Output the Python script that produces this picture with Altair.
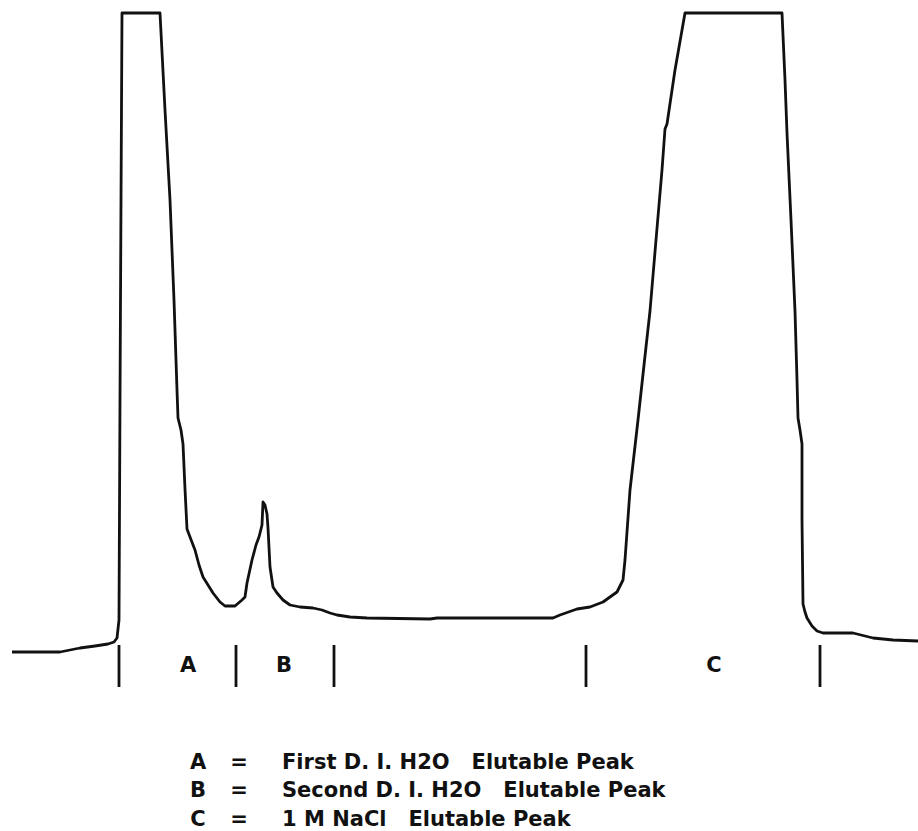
import altair as alt
import pandas as pd

# Chromatogram trace (x = elution position, y = recorder position, 0 at top)
trace_x = [12, 40, 60, 70, 80, 95, 108, 114, 117, 119, 120, 121, 122,
           160, 165, 170, 174, 177, 178, 181, 183, 185, 187, 190, 195, 199, 203, 208, 213, 220, 225,
           235, 242, 245, 247, 252, 256, 259, 262, 263, 265, 267, 268, 270, 273, 277, 283, 290, 300,
           313, 322, 330, 337, 350, 367, 430, 437, 500, 553, 560, 577, 590, 603, 610, 617, 623, 625,
           630, 638, 645, 647, 650, 656, 662, 665, 667, 675, 685, 782, 785, 787, 791, 795, 797, 798,
           800, 802, 802, 803, 805, 807, 812, 817, 823, 840, 853, 873, 893, 918]
trace_y = [652, 652, 652, 650, 648, 646, 644, 642, 638, 620, 400, 200, 13,
           13, 110, 200, 300, 390, 418, 430, 444, 489, 529, 537, 550, 565, 577, 585, 593, 602, 606,
           606, 600, 597, 583, 560, 545, 537, 525, 502, 505, 514, 528, 567, 587, 593, 600, 605, 607,
           608, 610, 613, 615, 617, 618, 619, 618, 618, 618, 615, 609, 607, 602, 597, 592, 580, 560,
           490, 420, 356, 338, 311, 240, 170, 129, 124, 70, 13, 13, 80, 133, 220, 311, 380, 418,
           430, 444, 520, 604, 612, 618, 626, 631, 633, 633, 633, 638, 640, 641]

# Fraction boundary markers
marker_x = [119, 236, 334, 586, 820]
marker_top = [645, 645, 645, 645, 645]
marker_bottom = [687, 687, 687, 687, 687]

# Fraction labels
peak_labels = ["A", "B", "C"]
peak_label_x = [188, 284, 714]
peak_label_y = [672, 672, 672]

# Key
NB = "\u00a0"
legend_letters = ["A", "B", "C"]
legend_eq = ["=", "=", "="]
legend_text = ["First D. I. H2O" + NB * 3 + "Elutable Peak",
               "Second D. I. H2O" + NB * 3 + "Elutable Peak",
               "1 M NaCl" + NB * 3 + "Elutable Peak"]
legend_y = [769, 797, 826]
legend_letter_x = [198, 198, 198]
legend_eq_x = [239, 239, 239]
legend_text_x = [282, 282, 282]

W, H = 918, 831
xs = alt.Scale(domain=[0, W], nice=False, zero=False)
ys = alt.Scale(domain=[H, 0], nice=False, zero=False)

trace = pd.DataFrame({"x": trace_x, "y": trace_y, "i": range(len(trace_x))})
markers = pd.DataFrame({"x": marker_x, "y": marker_top, "y2": marker_bottom})
plabels = pd.DataFrame({"x": peak_label_x, "y": peak_label_y, "t": peak_labels})
leg = pd.DataFrame({"lx": legend_letter_x, "ex": legend_eq_x, "tx": legend_text_x,
                    "y": legend_y, "l": legend_letters, "e": legend_eq, "t": legend_text})

FONT = "DejaVu Sans"
FS = 21
INK = "#111111"

line = alt.Chart(trace).mark_line(color=INK, strokeWidth=2.8, strokeJoin="round").encode(
    x=alt.X("x:Q", scale=xs, axis=None),
    y=alt.Y("y:Q", scale=ys, axis=None),
    order="i:Q",
)

rules = alt.Chart(markers).mark_rule(color=INK, strokeWidth=2.8).encode(
    x=alt.X("x:Q", scale=xs, axis=None),
    y=alt.Y("y:Q", scale=ys, axis=None),
    y2="y2:Q",
)

lbl = alt.Chart(plabels).mark_text(font=FONT, fontSize=FS, fontWeight="bold", color=INK,
                                   align="center", baseline="alphabetic").encode(
    x=alt.X("x:Q", scale=xs, axis=None),
    y=alt.Y("y:Q", scale=ys, axis=None),
    text="t:N",
)

leg_l = alt.Chart(leg).mark_text(font=FONT, fontSize=FS, fontWeight="bold", color=INK,
                                 align="center", baseline="alphabetic").encode(
    x=alt.X("lx:Q", scale=xs, axis=None),
    y=alt.Y("y:Q", scale=ys, axis=None),
    text="l:N",
)
leg_e = alt.Chart(leg).mark_text(font=FONT, fontSize=FS, fontWeight="bold", color=INK,
                                 align="center", baseline="alphabetic").encode(
    x=alt.X("ex:Q", scale=xs, axis=None),
    y=alt.Y("y:Q", scale=ys, axis=None),
    text="e:N",
)
leg_t = alt.Chart(leg).mark_text(font=FONT, fontSize=FS, fontWeight="bold", color=INK,
                                 align="left", baseline="alphabetic").encode(
    x=alt.X("tx:Q", scale=xs, axis=None),
    y=alt.Y("y:Q", scale=ys, axis=None),
    text="t:N",
)

chart = alt.layer(line, rules, lbl, leg_l, leg_e, leg_t).properties(
    width=W, height=H, padding=0, autosize=alt.AutoSizeParams(type="none"), background="white"
).configure_view(stroke=None)

chart.save("out.html", embed_options={"renderer": "svg", "actions": False})
